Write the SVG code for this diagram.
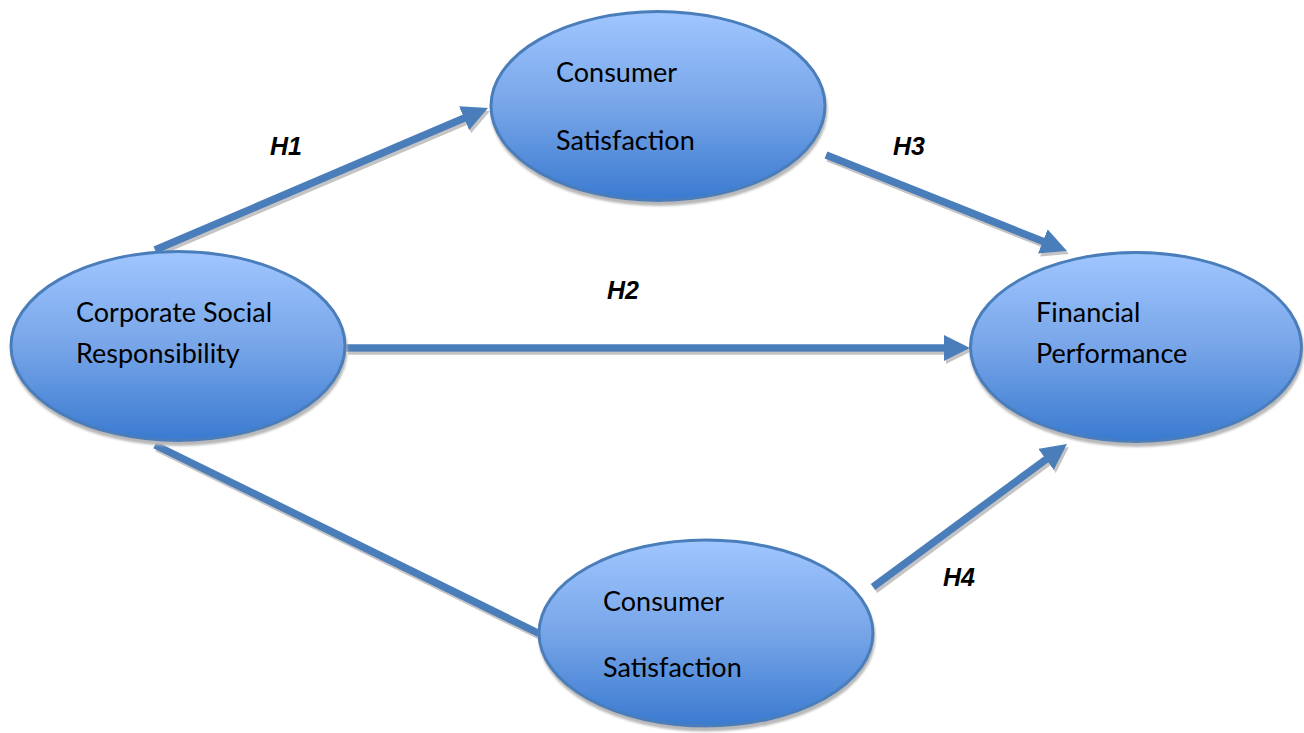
<svg xmlns="http://www.w3.org/2000/svg" width="1304" height="733" viewBox="0 0 1304 733">
  <defs>
    <linearGradient id="bubbleFill" x1="0" y1="0" x2="0" y2="1">
      <stop offset="0" stop-color="#a0c6ff"/>
      <stop offset="0.5" stop-color="#77a5e8"/>
      <stop offset="1" stop-color="#3a7ad0"/>
    </linearGradient>
    <filter id="nodeShadow" x="-10%" y="-10%" width="120%" height="130%">
      <feDropShadow dx="1" dy="4" stdDeviation="0.8" flood-color="#b8b8b8" flood-opacity="1"/>
    </filter>
    <filter id="lineShadow" x="-10%" y="-10%" width="120%" height="130%">
      <feDropShadow dx="2" dy="3" stdDeviation="0.6" flood-color="#c4c4c4" flood-opacity="1"/>
    </filter>
    <marker id="head" markerUnits="userSpaceOnUse" markerWidth="26" markerHeight="26" refX="10" refY="13" orient="auto">
      <path d="M0,0 L26,13 L0,26 z" fill="#4a7ebb"/>
    </marker>
  </defs>
  <style>
    .bubble { fill: url(#bubbleFill); stroke: #4a7ebb; stroke-width: 3; filter: url(#nodeShadow); }
    .label { font-family: Lato, "Open Sans", "Liberation Sans", sans-serif; font-size: 27px; fill: #000; }
    .hyp { font-family: "Liberation Sans", Arial, sans-serif; font-size: 25px; font-weight: bold; font-style: italic; fill: #000; }
    .link { stroke: #4a7ebb; stroke-width: 7.5; fill: none; stroke-linecap: butt; }
  </style>
  <rect width="1304" height="733" fill="#ffffff"/>

  <!-- connectors -->
  <g id="connectors" filter="url(#lineShadow)">
    <line class="link" x1="155" y1="250" x2="473.3" y2="114.3" marker-end="url(#head)"/>
    <line class="link" x1="346" y1="348" x2="954" y2="348" marker-end="url(#head)"/>
    <line class="link" x1="826" y1="155" x2="1052.1" y2="245.1" marker-end="url(#head)"/>
    <line class="link" x1="155" y1="445" x2="540" y2="634"/>
    <line class="link" x1="873" y1="587" x2="1054.1" y2="453.5" marker-end="url(#head)"/>
  </g>

  <g id="hypotheses">
    <text class="hyp" x="270" y="155">H1</text>
    <text class="hyp" x="607" y="299">H2</text>
    <text class="hyp" x="893" y="155">H3</text>
    <text class="hyp" x="943" y="586">H4</text>
  </g>

  <g id="csr">
    <ellipse class="bubble" cx="178" cy="346" rx="167" ry="94.5"/>
    <text class="label" x="76" y="322">Corporate Social</text>
    <text class="label" x="76" y="363">Responsibility</text>
  </g>

  <g id="satisfaction-top">
    <ellipse class="bubble" cx="658" cy="106" rx="167" ry="94.5"/>
    <text class="label" x="556" y="82">Consumer</text>
    <text class="label" x="556" y="150">Satisfaction</text>
  </g>

  <g id="financial">
    <ellipse class="bubble" cx="1136" cy="347" rx="165.5" ry="94.5"/>
    <text class="label" x="1036" y="322">Financial</text>
    <text class="label" x="1036" y="363">Performance</text>
  </g>

  <g id="satisfaction-bottom">
    <ellipse class="bubble" cx="706" cy="633" rx="167" ry="93"/>
    <text class="label" x="603" y="611">Consumer</text>
    <text class="label" x="603" y="677">Satisfaction</text>
  </g>
</svg>
